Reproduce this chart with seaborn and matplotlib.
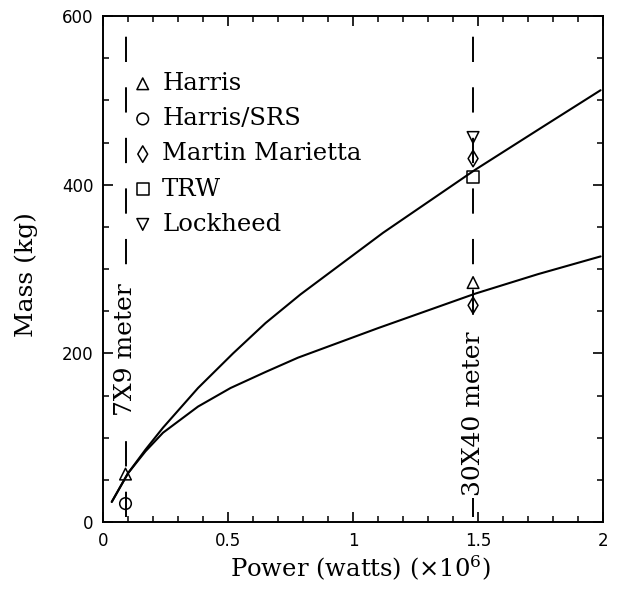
import numpy as np
import pandas as pd
import matplotlib
matplotlib.use('Agg')
import matplotlib.pyplot as plt
from matplotlib.ticker import MultipleLocator
import seaborn as sns

# ---- data (power in 1e6 W, mass in kg) ----
upper_power = [0.035, 0.10, 0.17, 0.24, 0.38, 0.52, 0.65, 0.79, 1.12, 1.49, 1.75, 1.99]
upper_mass = [24, 58, 86, 112, 159, 200, 236, 270, 343, 418, 467, 512]

lower_power = [0.035, 0.10, 0.17, 0.24, 0.38, 0.51, 0.65, 0.78, 1.10, 1.49, 1.74, 1.99]
lower_mass = [24, 58, 84, 106, 137, 159, 178, 195, 230, 271, 294, 315]

point_company = ['Harris', 'Harris/SRS', 'Harris', 'Martin Marietta',
                 'Martin Marietta', 'TRW', 'Lockheed']
point_power = [0.09, 0.09, 1.48, 1.48, 1.48, 1.48, 1.48]
point_mass = [57, 22, 284, 257, 431, 409, 456]

legend_order = ['Harris', 'Harris/SRS', 'Martin Marietta', 'TRW', 'Lockheed']
marker_map = {'Harris': '^', 'Harris/SRS': 'o', 'Martin Marietta': 'd',
              'TRW': 's', 'Lockheed': 'v'}

tunnel_power = [0.09, 1.48]
tunnel_labels = ['7X9 meter', '30X40 meter']
tunnel_label_mass = [205, 128]

curves = pd.concat([
    pd.DataFrame({'power': upper_power, 'mass': upper_mass, 'curve': 'upper'}),
    pd.DataFrame({'power': lower_power, 'mass': lower_mass, 'curve': 'lower'}),
])
points = pd.DataFrame({'company': point_company, 'power': point_power, 'mass': point_mass})

# ---- style ----
sns.set_style('ticks')
plt.rcParams['font.family'] = ['DejaVu Serif']
plt.rcParams['mathtext.fontset'] = 'dejavuserif'
plt.rcParams['text.color'] = 'black'
plt.rcParams['axes.labelcolor'] = 'black'

fig = plt.figure(figsize=(6.22, 5.92), dpi=100)
ax = fig.add_axes([0.1656, 0.118, 0.804, 0.855])

# dashed wind-tunnel markers
for xp in tunnel_power:
    ax.vlines(xp, 6, 592, colors='black', linewidth=1.4,
              linestyles=(0, (13, 13)), zorder=1)

# fitted curves
sns.lineplot(data=curves, x='power', y='mass', units='curve', estimator=None,
             sort=False, color='black', linewidth=1.5, ax=ax, zorder=2)

# contractor estimates
for name in legend_order:
    sub = points[points['company'] == name]
    sns.scatterplot(data=sub, x='power', y='mass', marker=marker_map[name], s=70,
                    facecolor='none', edgecolor='black', linewidth=1.1,
                    label=name, ax=ax, zorder=3)

for xp, txt, ym in zip(tunnel_power, tunnel_labels, tunnel_label_mass):
    ax.text(xp, ym, txt, rotation=90, ha='center', va='center', fontsize=18,
            color='black',
            bbox=dict(facecolor='white', edgecolor='none', pad=1.0), zorder=4)

ax.set_xlim(0, 2)
ax.set_ylim(0, 600)
ax.xaxis.set_major_locator(MultipleLocator(0.5))
ax.xaxis.set_minor_locator(MultipleLocator(0.1))
ax.yaxis.set_major_locator(MultipleLocator(200))
ax.yaxis.set_minor_locator(MultipleLocator(50))
ax.set_xticks([0, 0.5, 1, 1.5, 2])
ax.set_xticklabels(['0', '0.5', '1', '1.5', '2'])
ax.tick_params(which='both', direction='in', top=True, right=True, color='black',
               labelsize=12, labelfontfamily='DejaVu Sans', labelcolor='black')
ax.tick_params(which='major', length=7, width=1.2, pad=7)
ax.tick_params(which='minor', length=4, width=1.1)
for sp in ax.spines.values():
    sp.set_color('black')
    sp.set_linewidth(1.4)

ax.set_xlabel('Power (watts) (×10$^{6}$)', fontsize=17.5)
ax.set_ylabel('Mass (kg)', fontsize=18)
ax.xaxis.set_label_coords(0.514, -0.062)
ax.yaxis.set_label_coords(-0.13, 0.49)

leg = ax.legend(loc='upper left', bbox_to_anchor=(0.06, 0.889), frameon=False,
                fontsize=17.5, handlelength=0.8, handletextpad=0.4, labelspacing=0.5,
                borderpad=0, borderaxespad=0)
for t in leg.get_texts():
    t.set_color('black')

fig.savefig('out.png', dpi=100, facecolor='white')
